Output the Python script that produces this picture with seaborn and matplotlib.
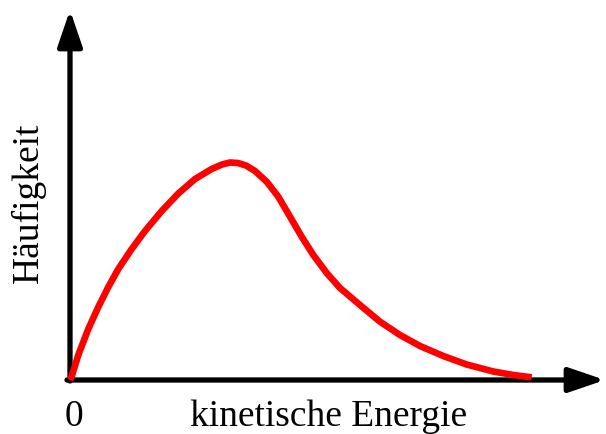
import pandas as pd
import matplotlib
matplotlib.use("Agg")
import matplotlib.pyplot as plt
import seaborn as sns

sns.set_style("white")
plt.rcParams['font.family'] = ['Liberation Serif', 'DejaVu Serif']
plt.rcParams['text.color'] = 'black'

# Kurve: kinetische Energie vs. Häufigkeit (beliebige Einheiten)
energie = [0, 1.7, 8.3, 18.3, 28.3, 38.3, 48.3, 61.7, 75, 91.7, 108.3, 125, 141.7,
           152, 160, 168, 176, 185, 196.7, 208.3, 220, 231.7, 243.3, 256.7, 270,
           290, 310, 330, 350, 373.3, 396.7, 423.3, 443.3, 461.7]
haeufigkeit = [0, 3.5, 25, 51, 73, 93, 111, 131, 149, 169, 186.5, 201, 211,
               215.5, 217.5, 217, 214.5, 209, 198.3, 183.3, 163.3, 143.3, 125, 107, 92,
               75, 58.3, 45, 34, 24, 15.5, 8.5, 5, 2.7]

x_label = "kinetische Energie"
y_label = "Häufigkeit"
origin_label = "0"

df = pd.DataFrame({"E": energie, "H": haeufigkeit})

fig = plt.figure(figsize=(6.06, 4.34), dpi=100)
ax = fig.add_axes([0, 0, 1, 1])
ax.set_xlim(-70, 536)
ax.set_ylim(-54, 380)
ax.axis("off")

# Achsen mit Pfeilen
arrow = dict(arrowstyle="-|>,head_length=2.2,head_width=0.75", lw=3.8, color="black",
             mutation_scale=10, shrinkA=0, shrinkB=0)
ax.annotate("", xy=(0, 370), xytext=(0, -1), arrowprops=arrow)
ax.annotate("", xy=(535, 0), xytext=(-3, 0), arrowprops=arrow)

sns.lineplot(data=df, x="E", y="H", ax=ax, color="#ff0000", linewidth=4.8,
             sort=False, estimator=None, solid_capstyle="butt", solid_joinstyle="round",
             zorder=3)

ax.text(4, -45.5, origin_label, fontsize=27, ha="center", va="baseline")
ax.text(259, -45.5, x_label, fontsize=27, ha="center", va="baseline")
ax.text(-42, 177, y_label, fontsize=27, rotation=90, ha="center", va="center")

fig.savefig("out.png", dpi=100)
